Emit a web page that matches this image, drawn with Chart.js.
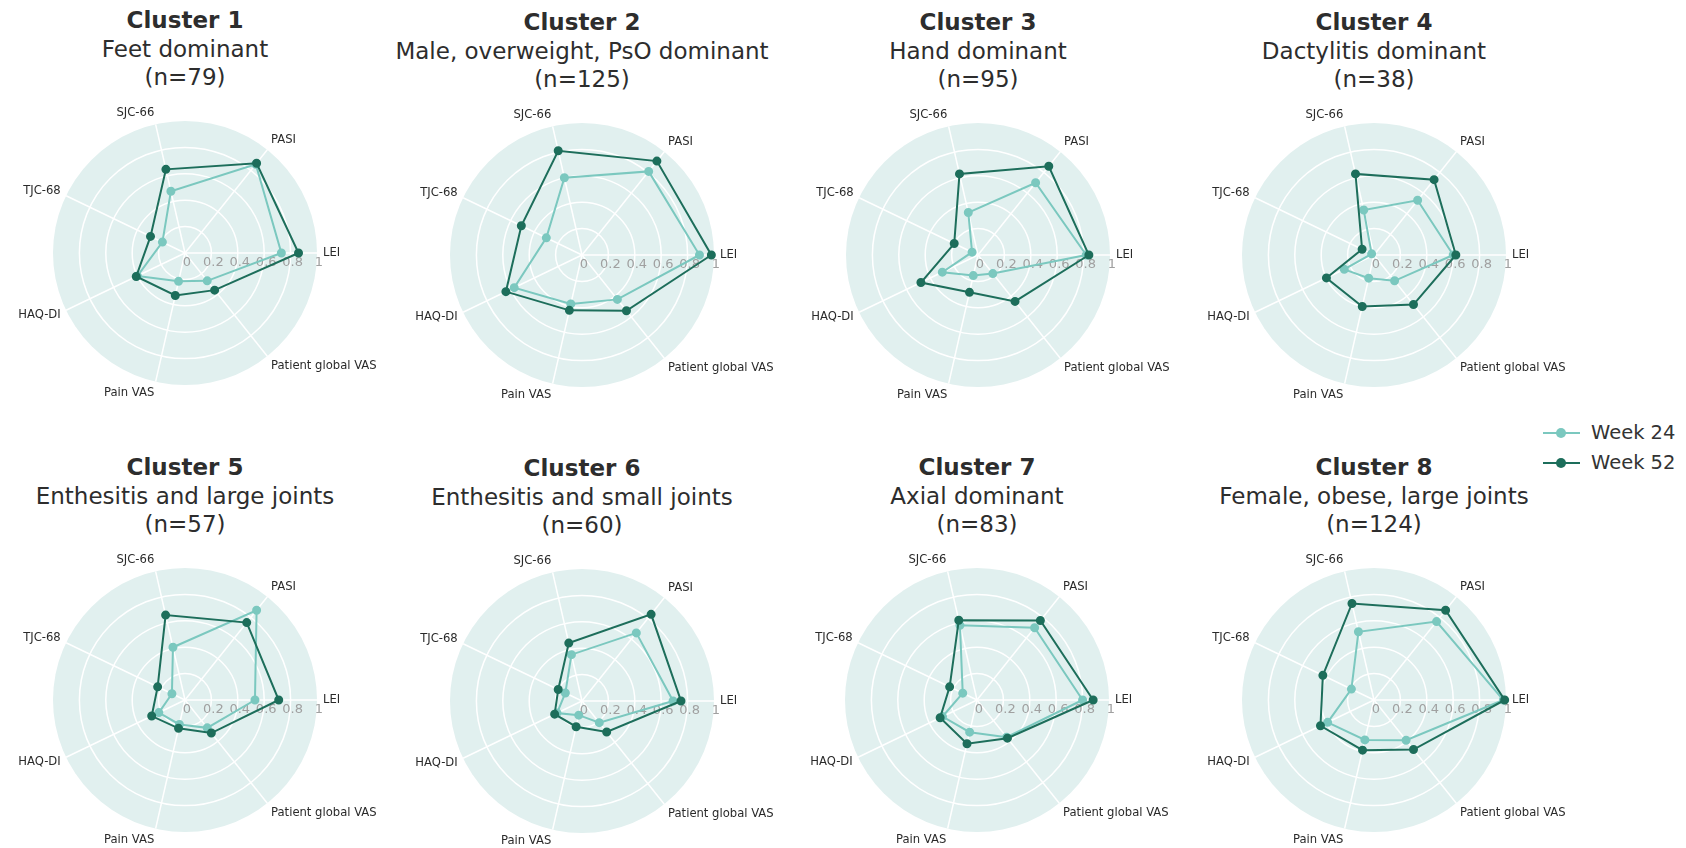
<!DOCTYPE html>
<html>
<head>
<meta charset="utf-8">
<script src="https://cdn.jsdelivr.net/npm/chart.js@4.4.0/dist/chart.umd.min.js"></script>
<style>
  body { margin: 0; background: #fff; width: 1686px; height: 848px; position: relative; overflow: hidden;
         font-family: "DejaVu Sans", Verdana, sans-serif; color: #2d2d2d; }
  .ttl { position: absolute; width: 460px; text-align: center; font-size: 23px; line-height: 28.5px; white-space: nowrap; }
  .ttl b { font-weight: bold; }
  canvas { position: absolute; }
  .leg { position: absolute; left: 1543px; height: 30px; font-size: 19.5px; line-height: 30px; color: #333; white-space: nowrap; }
  .leg i { position: absolute; left: 0; top: 14px; width: 37px; height: 2px; }
  .leg u { position: absolute; left: 13px; top: 10px; width: 10px; height: 10px; border-radius: 50%; }
  .leg span { position: absolute; left: 48px; top: 0; }
</style>
</head>
<body>
<script>
//Data radar per cluster//
// urutan sumbu searah jarum jam mulai dari kanan (LEI)
const axisLabels = ["LEI", "Patient global VAS", "Pain VAS", "HAQ-DI", "TJC-68", "SJC-66", "PASI"];
const radialTicks = [0, 0.2, 0.4, 0.6, 0.8, 1];
const seriesNames = ["Week 24", "Week 52"];

const clusterNames = ["Cluster 1", "Cluster 2", "Cluster 3", "Cluster 4", "Cluster 5", "Cluster 6", "Cluster 7", "Cluster 8"];
const clusterDesc = ["Feet dominant", "Male, overweight, PsO dominant", "Hand dominant", "Dactylitis dominant",
  "Enthesitis and large joints", "Enthesitis and small joints", "Axial dominant", "Female, obese, large joints"];
const clusterN = [79, 125, 95, 38, 57, 60, 83, 124];

const week24 = [
  [0.73, 0.27, 0.22, 0.40, 0.19, 0.48, 0.86],
  [0.89, 0.43, 0.38, 0.57, 0.30, 0.60, 0.81],
  [0.82, 0.18, 0.16, 0.30, 0.05, 0.33, 0.70],
  [0.60, 0.25, 0.18, 0.25, 0.02, 0.35, 0.53],
  [0.53, 0.27, 0.19, 0.22, 0.11, 0.41, 0.87],
  [0.69, 0.21, 0.11, 0.21, 0.14, 0.36, 0.66],
  [0.80, 0.36, 0.25, 0.29, 0.12, 0.58, 0.70],
  [0.98, 0.39, 0.31, 0.39, 0.19, 0.53, 0.76],
];
const week52 = [
  [0.86, 0.36, 0.33, 0.41, 0.29, 0.65, 0.87],
  [0.98, 0.54, 0.43, 0.64, 0.51, 0.81, 0.91],
  [0.84, 0.45, 0.29, 0.48, 0.20, 0.63, 0.86],
  [0.62, 0.48, 0.40, 0.40, 0.10, 0.63, 0.73],
  [0.71, 0.32, 0.22, 0.28, 0.23, 0.66, 0.75],
  [0.75, 0.30, 0.20, 0.23, 0.20, 0.45, 0.84],
  [0.88, 0.37, 0.34, 0.31, 0.23, 0.62, 0.77],
  [0.99, 0.48, 0.39, 0.45, 0.43, 0.75, 0.87],
];

// posisi tengah tiap radar di halaman
const centers = [[185, 253], [582, 255], [978, 255], [1374, 255], [185, 700], [582, 701], [977, 700], [1374, 700]];
const R = 132;
const W = 400, H = 310;
const colorW24 = "#7bc8bf";
const colorW52 = "#1d6e5b";
const discColor = "#e1f0ef";

// teks tick dan label sumbu digambar sendiri (gaya plotly)
const polarText = {
  id: "polarText",
  beforeDatasetsDraw(chart) {
    const r = chart.scales.r;
    const ctx = chart.ctx;
    ctx.save();
    ctx.font = '13px "DejaVu Sans"';
    ctx.fillStyle = "#a0a0a0";
    ctx.textAlign = "center";
    ctx.textBaseline = "middle";
    radialTicks.forEach((v) => {
      const p = r.getPointPosition(0, r.getDistanceFromCenterForValue(v));
      ctx.fillText(String(v), p.x + 2, p.y + 10);
    });
    ctx.restore();
  },
  afterDraw(chart) {
    const r = chart.scales.r;
    const ctx = chart.ctx;
    ctx.save();
    ctx.font = '11.6px "DejaVu Sans"';
    ctx.fillStyle = "#2a2a2a";
    ctx.textBaseline = "middle";
    chart.data.labels.forEach((label, i) => {
      const p = r.getPointPosition(i, r.drawingArea + 6);
      const c = Math.cos(p.angle), s = -Math.sin(p.angle);
      ctx.textAlign = c > 0.1 ? "left" : c < -0.1 ? "right" : "center";
      ctx.fillText(label, p.x, p.y - s * 6);
    });
    ctx.restore();
  },
};

function radarCluster(idx) {
  const [cx, cy] = centers[idx];

  const ttl = document.createElement("div");
  ttl.className = "ttl";
  ttl.style.left = (cx - 230) + "px";
  ttl.style.top = (cy - 247) + "px";
  ttl.innerHTML = "<b>" + clusterNames[idx] + "</b><br>" + clusterDesc[idx] + "<br>(n=" + clusterN[idx] + ")";
  document.body.appendChild(ttl);

  const canvas = document.createElement("canvas");
  canvas.width = W;
  canvas.height = H;
  canvas.style.left = Math.round(cx - W / 2) + "px";
  canvas.style.top = Math.round(cy - H / 2) + "px";
  document.body.appendChild(canvas);

  const padX = W / 2 - R, padY = H / 2 - R;

  const data = {
    labels: axisLabels,
    datasets: [
      {
        label: seriesNames[1],
        data: week52[idx],
        borderColor: colorW52,
        backgroundColor: colorW52,
        pointBackgroundColor: colorW52,
        pointBorderColor: colorW52,
        pointRadius: 3.5,
        borderWidth: 2,
        fill: false,
      },
      {
        label: seriesNames[0],
        data: week24[idx],
        borderColor: colorW24,
        backgroundColor: colorW24,
        pointBackgroundColor: colorW24,
        pointBorderColor: colorW24,
        pointRadius: 3.5,
        borderWidth: 2,
        fill: false,
      },
    ],
  };

  const config = {
    type: "radar",
    data: data,
    options: {
      responsive: false,
      animation: false,
      devicePixelRatio: 1,
      layout: { padding: { left: padX, right: padX, top: padY, bottom: padY } },
      elements: { line: { tension: 0 } },
      plugins: {
        legend: { display: false },
        tooltip: { enabled: false },
      },
      scales: {
        r: {
          min: 0,
          max: 1,
          startAngle: 90,
          backgroundColor: discColor,
          ticks: { display: false, stepSize: 0.2 },
          pointLabels: { display: false },
          grid: {
            circular: true,
            lineWidth: 1.5,
            color: (c) => (c.tick && c.tick.value >= 1 ? "rgba(0,0,0,0)" : "#ffffff"),
          },
          angleLines: { color: "#ffffff", lineWidth: 1.5 },
        },
      },
    },
    plugins: [polarText],
  };
  new Chart(canvas.getContext("2d"), config);
}

for (let i = 0; i < clusterNames.length; i++) {
  radarCluster(i);
}

// legenda
[[seriesNames[0], colorW24, 418], [seriesNames[1], colorW52, 448]].forEach(([name, col, top]) => {
  const d = document.createElement("div");
  d.className = "leg";
  d.style.top = top + "px";
  d.innerHTML = '<i style="background:' + col + '"></i><u style="background:' + col + '"></u><span>' + name + "</span>";
  document.body.appendChild(d);
});
//Akhir Data radar//
</script>
</body>
</html>
